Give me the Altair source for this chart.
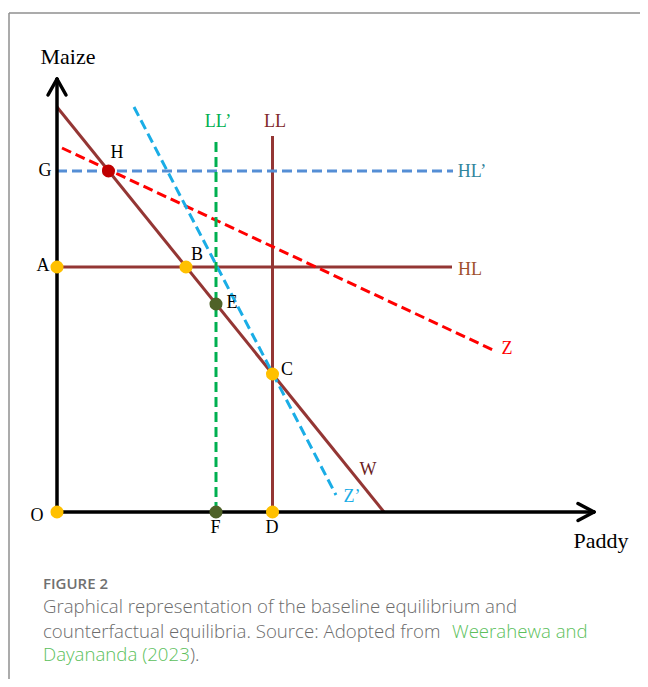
import altair as alt
import pandas as pd

# ---- diagram data (units: origin at O, Paddy to the right, Maize upward) ----
line_names = ["W", "HL", "LL", "Z", "Z'", "HL'", "LL'"]
line_x1 = [0, 0, 215.5, 5, 77, 0, 159]
line_y1 = [405, 245, 0, 364, 405, 341, 0]
line_x2 = [327, 395, 215.5, 436, 279, 396, 159]
line_y2 = [0, 245, 376, 162, 17, 341, 375]
line_dashed = [False, False, False, True, True, True, True]
line_colors = ["#943634", "#943634", "#943634", "#FF0000", "#1AADE6", "#558ED5", "#00B050"]

axis_x1 = [0, 0, 521, 521, -9, 9]
axis_y1 = [0, 0, 8.5, -8.5, 417, 417]
axis_x2 = [537, 0, 537, 537, 0, 0]
axis_y2 = [0, 433, 0, 0, 433, 433]

point_names = ["O", "F", "D", "A", "B", "C", "E", "H"]
point_x = [0, 159, 215.5, 0, 129, 215.5, 159, 51.5]
point_y = [0, 0, 0, 245, 245, 138, 208, 341]
point_kind = ["eq", "cf", "eq", "eq", "eq", "eq", "cf", "h"]

label_text = ["O", "F", "D", "A", "B", "C", "E", "H", "G", "LL\u2019", "LL", "HL\u2019", "HL", "Z", "Z\u2019", "W"]
label_x = [-20, 158.5, 215, -14, 140, 230, 175, 60, -12, 161, 218, 415, 413, 450, 295, 311]
label_y = [-4, -16, -16, 246, 257, 142, 209, 359, 341, 390, 390, 340, 242, 163, 15, 42]
label_color = ["#000000", "#000000", "#000000", "#000000", "#000000", "#000000", "#000000",
               "#000000", "#000000", "#00B050", "#7F2A2A", "#31859C", "#A0522D", "#FF0000",
               "#1AADE6", "#6B2222"]

title_text = ["Maize", "Paddy"]
title_x = [11, 544]
title_y = [455, -29]

caption_text = ["Graphical representation of the baseline equilibrium and",
                "counterfactual equilibria. Source: Adopted from ",
                "Weerahewa and",
                "Dayananda (2023",
                ")."]
caption_x = [-14, -14, 395, -14, 133]
caption_y = [-95, -120, -120, -143, -143]
caption_color = ["#6b6b6b", "#6b6b6b", "#5cbf5c", "#5cbf5c", "#6b6b6b"]

fig_label = ["FIGURE 2"]
fig_x = [-14]
fig_y = [-72]

W, H = 632, 671
xs = alt.Scale(domain=[-49, 583], nice=False, zero=False)
ys = alt.Scale(domain=[-167, 504], nice=False, zero=False)

lines = pd.DataFrame({"name": line_names, "x": line_x1, "y": line_y1,
                      "x2": line_x2, "y2": line_y2, "dashed": line_dashed,
                      "color": line_colors})
axes_df = pd.DataFrame({"x": axis_x1, "y": axis_y1, "x2": axis_x2, "y2": axis_y2})
pts = pd.DataFrame({"name": point_names, "x": point_x, "y": point_y, "kind": point_kind})
labels = pd.DataFrame({"t": label_text, "x": label_x, "y": label_y, "c": label_color})
titles = pd.DataFrame({"t": title_text, "x": title_x, "y": title_y})
caps = pd.DataFrame({"t": caption_text, "x": caption_x, "y": caption_y, "c": caption_color})
figl = pd.DataFrame({"t": fig_label, "x": fig_x, "y": fig_y})

X = lambda f="x": alt.X(f"{f}:Q", scale=xs, axis=None)
Y = lambda f="y": alt.Y(f"{f}:Q", scale=ys, axis=None)

border_left = alt.Chart(pd.DataFrame({"k": [0]})).mark_rule(
    color="#8f8f8f", strokeWidth=1.5).encode(
    x=alt.value(1), y=alt.value(5), y2=alt.value(H))
border_top = alt.Chart(pd.DataFrame({"k": [0]})).mark_rule(
    color="#8f8f8f", strokeWidth=1.5).encode(
    x=alt.value(1), x2=alt.value(W), y=alt.value(5))

solid = alt.Chart(lines[~lines.dashed]).mark_rule(strokeWidth=3).encode(
    x=X(), y=Y(), x2="x2:Q", y2="y2:Q",
    color=alt.Color("color:N", scale=None))
dashed = alt.Chart(lines[lines.dashed]).mark_rule(
    strokeWidth=3, strokeDash=[10, 5]).encode(
    x=X(), y=Y(), x2="x2:Q", y2="y2:Q",
    color=alt.Color("color:N", scale=None))
axes_layer = alt.Chart(axes_df).mark_rule(
    strokeWidth=3.5, color="black", strokeCap="round").encode(
    x=X(), y=Y(), x2="x2:Q", y2="y2:Q")

points = alt.Chart(pts).mark_point(filled=True, size=170, opacity=1).encode(
    x=X(), y=Y(),
    color=alt.Color("kind:N", scale=alt.Scale(domain=["eq", "cf", "h"],
                                              range=["#FFC000", "#4F6228", "#C00000"]),
                    legend=None))

lab = alt.Chart(labels).mark_text(font="Liberation Serif", fontSize=18,
                                  baseline="middle", align="center").encode(
    x=X(), y=Y(), text="t:N", color=alt.Color("c:N", scale=None))
tit = alt.Chart(titles).mark_text(font="Liberation Serif", fontSize=22,
                                  baseline="middle", align="center").encode(
    x=X(), y=Y(), text="t:N", color=alt.value("black"))
cap = alt.Chart(caps).mark_text(font="Open Sans", fontSize=18.65, fontWeight=300,
                                baseline="middle", align="left").encode(
    x=X(), y=Y(), text="t:N", color=alt.Color("c:N", scale=None))
fig = alt.Chart(figl).mark_text(font="Open Sans", fontSize=15, fontWeight=600,
                                baseline="middle", align="left", color="#707070").encode(
    x=X(), y=Y(), text="t:N")

chart = alt.layer(border_left, border_top, solid, dashed, axes_layer, points,
                  lab, tit, cap, fig).properties(
    width=W, height=H, padding=0,
    autosize=alt.AutoSizeParams(type="none")
).configure_view(stroke=None)

chart.save("out.html", embed_options={"renderer": "svg", "actions": False})
